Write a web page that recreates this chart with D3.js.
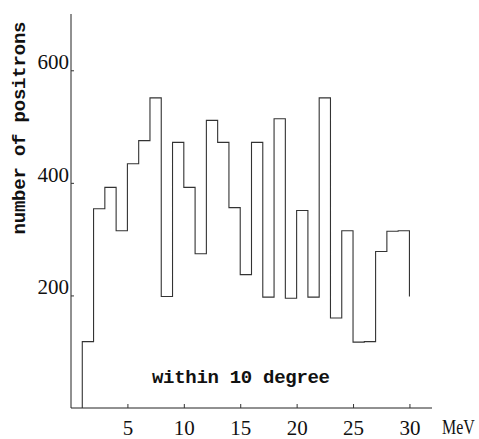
<!DOCTYPE html>
<html>
<head>
<meta charset="utf-8">
<script src="https://cdn.jsdelivr.net/npm/d3@7"></script>
<style>
  body { margin: 0; background: #fff; }
  svg { display: block; }
</style>
</head>
<body>
<svg width="479" height="439"></svg>
<script>
// energy bins (MeV), 1 MeV wide, lower edges
var binEdges = [1,2,3,4,5,6,7,8,9,10,11,12,13,14,15,16,17,18,19,20,21,22,23,24,25,26,27,28,29,30];
// counts per bin
var counts = [118,354,392,315,434,475,551,198,472,392,274,511,472,356,237,
              472,197,514,195,351,197,551,160,315,117,118,278,314,315];
var endValue = 198; // last vertical drop at 30 MeV
var xTicks = [5,10,15,20,25,30];
var yTicks = [200,400,600];

var svg = d3.select("svg");

var x = d3.scaleLinear().domain([0, 32]).range([71, 432]);
var y = d3.scaleLinear().domain([0, 700]).range([408, 14]);

function styleTicks(g) {
  g.attr("font-family", "Liberation Serif, serif").attr("font-size", 21);
  g.selectAll(".tick line").attr("stroke", "#333");
  g.selectAll(".tick text").attr("fill", "#111");
}

// axes
var xAxis = d3.axisBottom(x).tickValues(xTicks).tickSize(-4).tickPadding(12);
svg.append("g")
    .attr("transform", "translate(0," + y(0) + ")")
    .call(xAxis)
    .call(styleTicks)
    .call(function(g){ g.select(".domain").attr("stroke", "#222").attr("d", "M" + x(0) + ",0H" + x(32)); });

var yAxis = d3.axisLeft(y).tickValues(yTicks).tickSize(-3).tickPadding(2);
svg.append("g")
    .attr("transform", "translate(" + x(0) + ",0)")
    .call(yAxis)
    .call(styleTicks)
    .call(function(g){ g.select(".domain").attr("stroke", "#222").attr("d", "M0," + y(0) + "V" + y(700)); })
    .call(function(g){ g.selectAll(".tick text").attr("dy", "-0.08em"); });

// histogram outline
var pts = [[binEdges[0], 0]];
counts.forEach(function(c, i){
  pts.push([binEdges[i], c]);
  pts.push([binEdges[i] + 1, c]);
});
pts.push([binEdges[binEdges.length - 1], endValue]);

var line = d3.line()
    .x(function(d){ return x(d[0]); })
    .y(function(d){ return y(d[1]); });

svg.append("path")
    .datum(pts)
    .attr("d", line)
    .attr("fill", "none")
    .attr("stroke", "#333")
    .attr("stroke-width", 1.1);

// labels
svg.append("text")
    .attr("transform", "translate(25,128) rotate(-90)")
    .attr("text-anchor", "middle")
    .attr("font-family", "Liberation Mono, monospace")
    .attr("font-size", 19)
    .attr("font-weight", "bold")
    .attr("fill", "#111")
    .attr("textLength", 213)
    .attr("lengthAdjust", "spacing")
    .text("number of positrons");

svg.append("text")
    .attr("x", 241)
    .attr("y", 383)
    .attr("text-anchor", "middle")
    .attr("font-family", "Liberation Mono, monospace")
    .attr("font-size", 19)
    .attr("font-weight", "bold")
    .attr("fill", "#111")
    .attr("textLength", 178)
    .attr("lengthAdjust", "spacing")
    .text("within 10 degree");

svg.append("text")
    .attr("transform", "translate(442,434) scale(0.76,1)")
    .attr("font-family", "Liberation Serif, serif")
    .attr("font-size", 21)
    .attr("fill", "#111")
    .text("MeV");
</script>
</body>
</html>
